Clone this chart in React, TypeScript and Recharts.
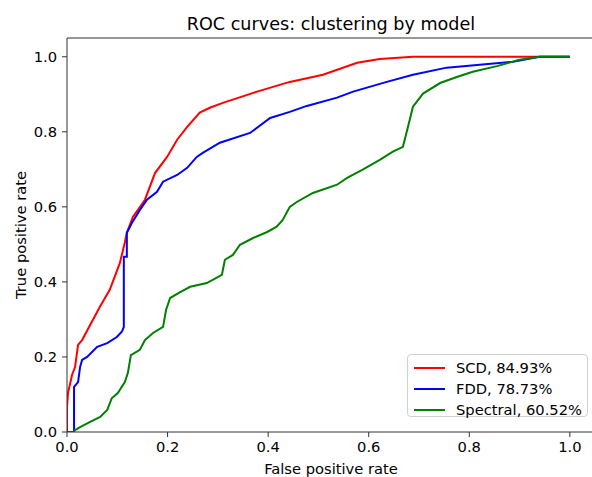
import React from 'react';
import { LineChart, Line, XAxis, YAxis, ReferenceLine } from 'recharts';

const TITLE = 'ROC curves: clustering by model';
const X_LABEL = 'False positive rate';
const Y_LABEL = 'True positive rate';
const X_TICKS = [0, 0.2, 0.4, 0.6, 0.8, 1.0];
const Y_TICKS = [0, 0.2, 0.4, 0.6, 0.8, 1.0];

// SCD curve
const scdFpr = [0, 0, 0.002, 0.01, 0.016, 0.022, 0.03, 0.046, 0.066, 0.085, 0.091, 0.105, 0.115, 0.119, 0.131,
  0.155, 0.175, 0.199, 0.219, 0.239, 0.264, 0.284, 0.31, 0.378, 0.443, 0.509, 0.577, 0.622, 0.688, 0.8, 1.0];
const scdTpr = [0, 0.067, 0.104, 0.152, 0.173, 0.232, 0.245, 0.285, 0.335, 0.379, 0.4, 0.45, 0.505, 0.531, 0.573,
  0.619, 0.69, 0.733, 0.779, 0.813, 0.851, 0.864, 0.877, 0.907, 0.933, 0.952, 0.984, 0.994, 1.0, 1.0, 1.0];

// FDD curve
const fddFpr = [0, 0.014, 0.014, 0.022, 0.026, 0.03, 0.04, 0.06, 0.08, 0.099, 0.109, 0.113, 0.113, 0.119, 0.119,
  0.129, 0.145, 0.159, 0.179, 0.191, 0.219, 0.239, 0.258, 0.27, 0.304, 0.364, 0.404, 0.443, 0.477, 0.537,
  0.569, 0.636, 0.688, 0.755, 0.821, 0.887, 0.94, 1.0];
const fddTpr = [0, 0, 0.12, 0.133, 0.173, 0.192, 0.2, 0.227, 0.237, 0.253, 0.267, 0.28, 0.467, 0.467, 0.531,
  0.557, 0.592, 0.619, 0.64, 0.667, 0.685, 0.704, 0.733, 0.744, 0.771, 0.797, 0.837, 0.853, 0.869, 0.891,
  0.907, 0.933, 0.952, 0.971, 0.979, 0.987, 1.0, 1.0];

// Spectral curve
const spectralFpr = [0, 0.012, 0.016, 0.026, 0.046, 0.066, 0.08, 0.089, 0.101, 0.115, 0.121, 0.127, 0.145, 0.155,
  0.171, 0.191, 0.197, 0.205, 0.225, 0.245, 0.278, 0.308, 0.314, 0.33, 0.344, 0.37, 0.398, 0.417, 0.429,
  0.443, 0.457, 0.489, 0.537, 0.557, 0.588, 0.622, 0.648, 0.668, 0.678, 0.688, 0.708, 0.742, 0.775, 0.807,
  0.855, 0.9, 0.94, 1.0];
const spectralTpr = [0, 0, 0.005, 0.013, 0.027, 0.04, 0.059, 0.09, 0.104, 0.133, 0.157, 0.205, 0.219, 0.245,
  0.264, 0.28, 0.325, 0.357, 0.373, 0.387, 0.397, 0.419, 0.459, 0.472, 0.499, 0.517, 0.533, 0.547, 0.565,
  0.6, 0.613, 0.637, 0.659, 0.677, 0.699, 0.725, 0.747, 0.76, 0.813, 0.867, 0.902, 0.93, 0.946, 0.96,
  0.975, 0.992, 1.0, 1.0];

const SERIES = [
  { name: 'SCD', auc: '84.93%', color: '#ff0000', fpr: scdFpr, tpr: scdTpr },
  { name: 'FDD', auc: '78.73%', color: '#0000ff', fpr: fddFpr, tpr: fddTpr },
  { name: 'Spectral', auc: '60.52%', color: '#008000', fpr: spectralFpr, tpr: spectralTpr },
];

const toPoints = (fpr: number[], tpr: number[]) => fpr.map((x, i) => ({ fpr: x, tpr: tpr[i] }));

const FONT = 'DejaVu Sans, sans-serif';
const AXIS = '#333';

const YLabel = ({ viewBox }: any) => {
  const x = 26;
  const y = viewBox.y + viewBox.height / 2;
  return (
    <text x={x} y={y} transform={`rotate(-90 ${x} ${y})`} textAnchor="middle" fill="#000" fontSize={14.7}>
      {Y_LABEL}
    </text>
  );
};

const XLabel = ({ viewBox }: any) => (
  <text x={viewBox.x + viewBox.width / 2} y={474} textAnchor="middle" fill="#000" fontSize={14.7}>
    {X_LABEL}
  </text>
);

export default function App() {
  return (
    <div style={{ position: 'absolute', left: 0, top: 0, width: 592, height: 477, overflow: 'hidden', background: '#fff', fontFamily: FONT }}>
      <LineChart width={600} height={477} margin={{ top: 38, right: 5, bottom: 0, left: 0 }} style={{ fontFamily: FONT, overflow: 'visible' }}>
        <XAxis
          dataKey="fpr"
          type="number"
          domain={[0, 1.05]}
          ticks={X_TICKS}
          tickFormatter={(v: number) => v.toFixed(1)}
          height={45}
          stroke={AXIS}
          tickSize={5}
          tickMargin={5}
          tick={{ fill: '#000', fontSize: 14.7 }}
          label={<XLabel />}
          allowDataOverflow
        />
        <YAxis
          dataKey="tpr"
          type="number"
          domain={[0, 1.05]}
          ticks={Y_TICKS}
          tickFormatter={(v: number) => v.toFixed(1)}
          width={67}
          stroke={AXIS}
          tickSize={5}
          tickMargin={5}
          tick={{ fill: '#000', fontSize: 14.7 }}
          label={<YLabel />}
          allowDataOverflow
        />
        <ReferenceLine
          y={1.05}
          stroke={AXIS}
          label={{ value: TITLE, position: 'top', offset: 8, fill: '#000', fontSize: 17.6 }}
        />
        <ReferenceLine x={1.05} stroke={AXIS} />
        {SERIES.map((s) => (
          <Line
            key={s.name}
            data={toPoints(s.fpr, s.tpr)}
            dataKey="tpr"
            name={s.name}
            type="linear"
            stroke={s.color}
            strokeWidth={2}
            dot={false}
            activeDot={false}
            isAnimationActive={false}
          />
        ))}
      </LineChart>
      <div
        style={{
          position: 'absolute',
          left: 407,
          top: 354,
          width: 181,
          height: 63,
          boxSizing: 'border-box',
          border: '1px solid #d0d0d0',
          borderRadius: 4,
          background: 'rgba(255,255,255,0.85)',
          paddingTop: 2,
        }}
      >
        {SERIES.map((s) => (
          <div key={s.name} style={{ display: 'flex', alignItems: 'center', height: 21, fontSize: 14.7 }}>
            <div style={{ marginLeft: 6, width: 31, height: 2, background: s.color }} />
            <span style={{ marginLeft: 11, color: '#000' }}>{`${s.name}, ${s.auc}`}</span>
          </div>
        ))}
      </div>
    </div>
  );
}
